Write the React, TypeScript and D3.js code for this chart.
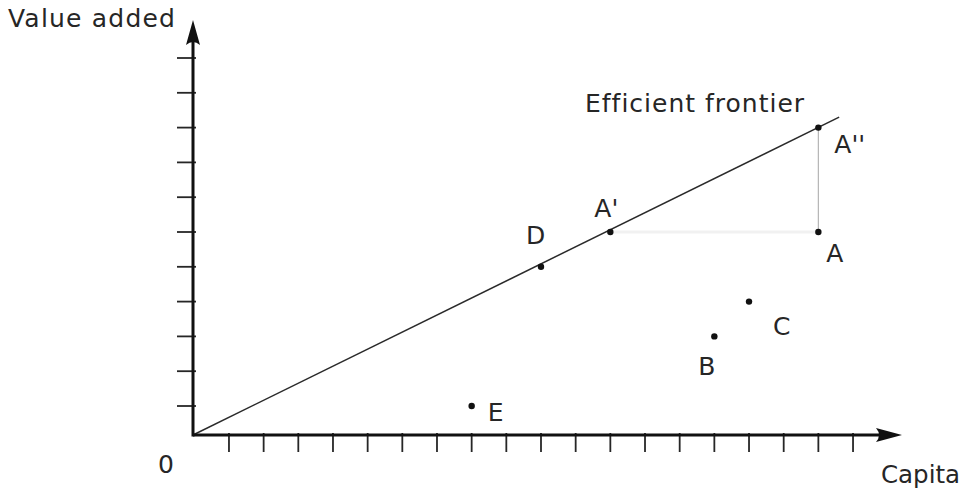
import React from "react";
import * as d3 from "d3";

// Firms plotted by capital employed and value added
const pointLabels = ["A''", "A", "A'", "D", "C", "B", "E"];
const capital = [18, 18, 12, 10, 16, 15, 8];
const valueAdded = [9, 6, 6, 5, 4, 3, 1];

// Tick values along each axis
const xTicks = d3.range(1, 20);
const yTicks = d3.range(1, 12);

// Efficient frontier: value added = slope * capital, drawn out to capital = frontierEnd
const frontierSlope = 0.5;
const frontierEnd = 18.6;

const W = 963;
const H = 489;
const FONT = "'DejaVu Sans', Verdana, sans-serif";
const INK = "#262626";

// Label placement relative to each point (dx, dy in px)
const labelOffset: Record<string, [number, number]> = {
  "A''": [16, 25],
  A: [8, 30],
  "A'": [-16, -15],
  D: [-15, -23],
  C: [24, 33],
  B: [-16, 39],
  E: [16, 15],
};

export default function App() {
  const x = d3.scaleLinear().domain([0, 19]).range([194.3, 194.3 + 19 * 34.67]);
  const y = d3.scaleLinear().domain([0, 11]).range([440.8, 440.8 - 11 * 34.8]);

  const ox = 193;
  const oy = 435;
  const xTip = 902;
  const yTip = 20;

  const pts = pointLabels.map((l, i) => ({ l, cx: x(capital[i]), cy: y(valueAdded[i]) }));
  const byLabel = Object.fromEntries(pts.map((p) => [p.l, p]));

  const frontier = d3.line()([
    [ox, oy],
    [x(frontierEnd), y(frontierEnd * frontierSlope)],
  ]) as string;

  return (
    <svg
      width={W}
      height={H}
      style={{ position: "absolute", left: 0, top: 0, background: "#fff" }}
      fontFamily={FONT}
    >
      {/* projection from A across to A' (faint) and up to A'' */}
      <line
        x1={byLabel["A'"].cx}
        y1={byLabel["A'"].cy}
        x2={byLabel["A"].cx}
        y2={byLabel["A"].cy}
        stroke="#f1f1f1"
        strokeWidth={3}
      />
      <line
        x1={byLabel["A"].cx}
        y1={byLabel["A"].cy}
        x2={byLabel["A''"].cx}
        y2={byLabel["A''"].cy}
        stroke="#b4b4b4"
        strokeWidth={1.2}
      />

      {/* efficient frontier */}
      <path d={frontier} stroke="#2a2a2a" strokeWidth={1.5} fill="none" />

      {/* axis ticks */}
      {yTicks.map((t) => (
        <line key={"y" + t} x1={177} x2={196} y1={y(t)} y2={y(t)} stroke={INK} strokeWidth={1.8} />
      ))}
      {xTicks.map((t) => (
        <line key={"x" + t} x1={x(t)} x2={x(t)} y1={433} y2={452} stroke={INK} strokeWidth={1.8} />
      ))}

      {/* axes with arrowheads */}
      <line x1={ox} y1={oy} x2={xTip - 12} y2={oy} stroke="#111" strokeWidth={3} />
      <line x1={ox} y1={oy + 1.5} x2={ox} y2={yTip + 12} stroke="#111" strokeWidth={3} />
      <path
        d={`M${xTip},${oy} L${xTip - 26},${oy + 7} Q${xTip - 20},${oy} ${xTip - 26},${oy - 7} Z`}
        fill="#111"
      />
      <path
        d={`M${ox},${yTip} L${ox + 7},${yTip + 25} Q${ox},${yTip + 19} ${ox - 7},${yTip + 25} Z`}
        fill="#111"
      />

      {/* points */}
      {pts.map((p) => (
        <circle key={p.l} cx={p.cx} cy={p.cy} r={3.2} fill="#111" />
      ))}

      {/* point labels */}
      {pts.map((p) => (
        <text
          key={"t" + p.l}
          x={p.cx + labelOffset[p.l][0]}
          y={p.cy + labelOffset[p.l][1]}
          fontSize={25}
          fill={INK}
        >
          {p.l}
        </text>
      ))}

      {/* titles */}
      <text x={8} y={27} fontSize={25} fill={INK} letterSpacing={1.2}>
        Value added
      </text>
      <text x={881} y={483} fontSize={24.5} fill={INK}>
        Capita
      </text>
      <text x={158} y={473} fontSize={25} fill={INK}>
        0
      </text>
      <text x={585} y={112} fontSize={25} fill={INK} letterSpacing={1}>
        Efficient frontier
      </text>
    </svg>
  );
}
